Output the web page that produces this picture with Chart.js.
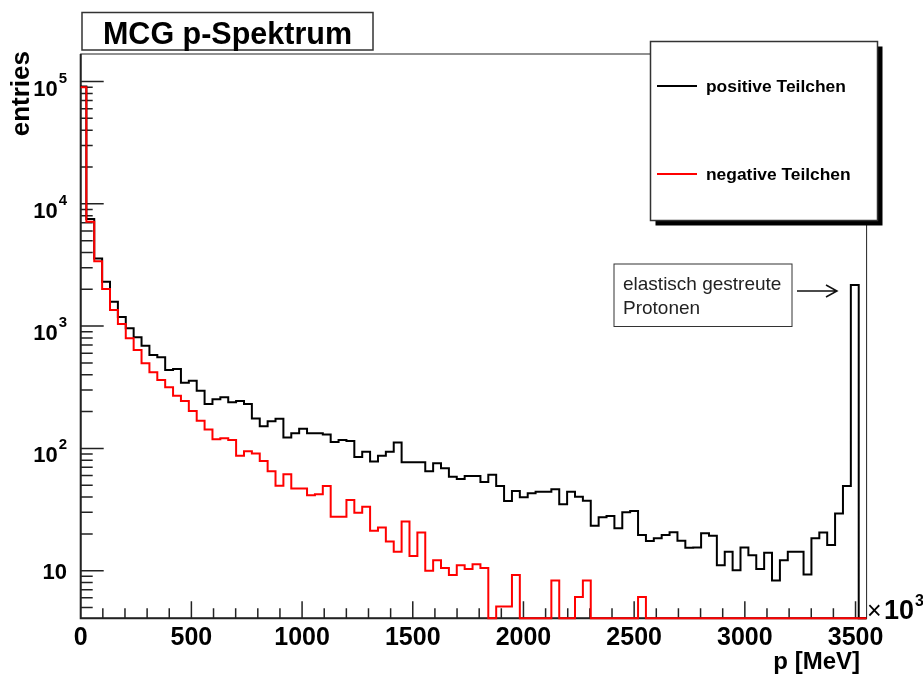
<!DOCTYPE html>
<html>
<head>
<meta charset="utf-8">
<title>MCG p-Spektrum</title>
<script src="https://cdn.jsdelivr.net/npm/chart.js@4.4.1/dist/chart.umd.min.js"></script>
<style>
  html, body { margin: 0; padding: 0; background: #fff; }
  #wrap { width: 923px; height: 675px; }
</style>
</head>
<body>
<div id="wrap"><canvas id="mycanvas" width="923" height="675"></canvas></div>
<script>
// binning of the histogram (MeV)
var histMin = -10;
var histMax = 3550;
var nBins = 100;

// entries per bin (0 = empty bin)
var positive = [
    91000, 7500, 3580, 2310, 1580, 1190, 960, 810, 690, 580,
    556, 438, 446, 345, 358, 296, 231, 252, 262, 239,
    244, 231, 176, 152, 167, 175, 123, 133, 145, 133,
    133, 130, 113, 117, 115, 85, 94, 78, 87, 94,
    112, 77, 77, 77, 65, 75.5, 68.7, 58.7, 56.2, 59.5,
    59.5, 53, 61, 49.3, 37.2, 44.9, 39.8, 42.9, 44.3, 44.3,
    46.3, 34.9, 44.3, 40.3, 37.3, 23.3, 27.3, 28, 22.2, 30,
    30.8, 19.6, 17.5, 18.4, 19.6, 20.6, 17.6, 15.4, 15.5, 20.2,
    19.3, 11.1, 14.3, 10.1, 15.5, 13.4, 10.3, 14, 8.3, 12.2,
    14.3, 14.3, 9.3, 18.4, 20.5, 16.2, 29.4, 49.3, 2170, 0
];
var negative = [
    90000, 7150, 3400, 2010, 1355, 1040, 794, 638, 497, 419,
    362, 316, 270, 244, 202, 168, 143, 119, 121, 117,
    87, 95, 91, 79, 65, 49.5, 61.5, 47, 47, 41.3,
    42.2, 49.3, 27.6, 27.6, 37.8, 29.8, 33.4, 21.2, 22.6, 17.3,
    14.3, 25.3, 13.2, 20.5, 10, 12.2, 10.5, 9.2, 11.1, 10.3,
    11.3, 10.5, 0, 5.1, 5.1, 9.2, 0, 0, 0, 0,
    8.3, 0, 0, 6.1, 8.3, 0, 0, 0, 0, 0,
    0, 6.1, 0, 0, 0, 0, 0, 0, 0, 0,
    0, 0, 0, 0, 0, 0, 0, 0, 0, 0,
    0, 0, 0, 0, 0, 0, 0, 0, 0, 0
];

var seriesNames = ["positive Teilchen", "negative Teilchen"];

// axis ranges and tick labels
var xMin = 0, xMax = 3550;
var yMin = 4.08, yMax = 168000;
var xTickValues = [0, 500, 1000, 1500, 2000, 2500, 3000, 3500];
var xTickLabels = ["0", "500", "1000", "1500", "2000", "2500", "3000", "3500"];
var yTickValues = [10, 100, 1000, 10000, 100000];
var yTickExps = ["", "2", "3", "4", "5"];

var FONT = '"Liberation Sans", Arial, Helvetica, sans-serif';

// step outline points; empty bins sit on the bottom of the frame like in ROOT
function histPoints(counts) {
    var w = (histMax - histMin) / nBins;
    var pts = [{x: histMin, y: yMin}];
    for (var i = 0; i < counts.length; i++) {
        pts.push({x: histMin + i * w, y: counts[i] > 0 ? counts[i] : yMin});
    }
    pts.push({x: histMax, y: yMin});
    return pts;
}

// frame + ticks, drawn under the histograms
var rootAxes = {
    id: 'rootAxes',
    beforeDatasetsDraw: function(chart) {
        var ctx = chart.ctx;
        var xs = chart.scales.x, ys = chart.scales.y;
        var a = chart.chartArea;
        ctx.save();
        ctx.strokeStyle = '#222';
        ctx.lineWidth = 1;
        ctx.strokeRect(a.left, a.top, a.right - a.left, a.bottom - a.top);
        ctx.lineWidth = 2;
        ctx.beginPath();
        ctx.moveTo(a.left, a.top);
        ctx.lineTo(a.left, a.bottom);
        ctx.lineTo(a.right, a.bottom);
        ctx.stroke();

        ctx.lineWidth = 1.5;
        ctx.beginPath();
        for (var e = 0; e <= 5; e++) {
            for (var m = 1; m <= 9; m++) {
                var v = m * Math.pow(10, e);
                if (v < ys.min || v > ys.max) continue;
                var py = ys.getPixelForValue(v);
                var len = (m === 1) ? 23 : 12;
                ctx.moveTo(a.left, py);
                ctx.lineTo(a.left + len, py);
            }
        }
        for (var t = 100; t <= 3500; t += 100) {
            var px = xs.getPixelForValue(t);
            var l = (t % 500 === 0) ? 17 : 10;
            ctx.moveTo(px, a.bottom);
            ctx.lineTo(px, a.bottom - l);
        }
        ctx.stroke();
        ctx.restore();
    },
    afterDraw: function(chart) {
        var ctx = chart.ctx;
        var xs = chart.scales.x, ys = chart.scales.y;
        var a = chart.chartArea;
        ctx.save();
        ctx.fillStyle = '#000';

        // x tick labels
        ctx.font = 'bold 25px ' + FONT;
        ctx.textAlign = 'center';
        ctx.textBaseline = 'alphabetic';
        for (var i = 0; i < xTickValues.length; i++) {
            ctx.fillText(xTickLabels[i], xs.getPixelForValue(xTickValues[i]), a.bottom + 27);
        }

        // y tick labels 10, 10^2 ...
        var right = 67;
        for (var j = 0; j < yTickValues.length; j++) {
            var py = ys.getPixelForValue(yTickValues[j]);
            if (yTickExps[j] === "") {
                ctx.font = 'bold 22px ' + FONT;
                ctx.textAlign = 'right';
                ctx.fillText('10', right, py + 8);
            } else {
                ctx.font = 'bold 15px ' + FONT;
                var sw = ctx.measureText(yTickExps[j]).width;
                ctx.textAlign = 'left';
                ctx.fillText(yTickExps[j], right - sw, py + 1);
                ctx.font = 'bold 22px ' + FONT;
                ctx.textAlign = 'right';
                ctx.fillText('10', right - sw - 1, py + 14);
            }
        }

        // x10^3 at the end of the x axis
        ctx.textAlign = 'left';
        ctx.font = '25px ' + FONT;
        ctx.fillText('\u00d7', 867, a.bottom + 1);
        ctx.font = 'bold 27px ' + FONT;
        ctx.fillText('10', 884, a.bottom + 1);
        ctx.font = 'bold 16px ' + FONT;
        ctx.fillText('3', 915, a.bottom - 12);

        // axis titles
        ctx.font = 'bold 24px ' + FONT;
        ctx.textAlign = 'right';
        ctx.fillText('p [MeV]', 860, 669);
        ctx.save();
        ctx.translate(29, 51);
        ctx.rotate(-Math.PI / 2);
        ctx.font = 'bold 26px ' + FONT;
        ctx.fillText('entries', 0, 0);
        ctx.restore();

        // title box
        ctx.fillStyle = '#fff';
        ctx.fillRect(82, 12.5, 291, 37.5);
        ctx.strokeStyle = '#333';
        ctx.lineWidth = 1.5;
        ctx.strokeRect(82, 12.5, 291, 37.5);
        ctx.fillStyle = '#000';
        ctx.font = 'bold 30.5px ' + FONT;
        ctx.textAlign = 'center';
        ctx.fillText('MCG p-Spektrum', 227.5, 43.5);

        // legend with drop shadow
        var lx = 650.5, ly = 41.5, lw = 227, lh = 179;
        ctx.fillStyle = '#000';
        ctx.fillRect(lx + 5, ly + 5, lw, lh);
        ctx.fillStyle = '#fff';
        ctx.fillRect(lx, ly, lw, lh);
        ctx.strokeStyle = '#333';
        ctx.lineWidth = 1.5;
        ctx.strokeRect(lx, ly, lw, lh);
        var rows = [86, 174];
        chart.data.datasets.forEach(function(ds, k) {
            ctx.strokeStyle = ds.borderColor;
            ctx.lineWidth = 2;
            ctx.beginPath();
            ctx.moveTo(657, rows[k]);
            ctx.lineTo(697, rows[k]);
            ctx.stroke();
            ctx.fillStyle = '#000';
            ctx.font = 'bold 17.4px ' + FONT;
            ctx.textAlign = 'left';
            ctx.textBaseline = 'middle';
            ctx.fillText(ds.label, 706, rows[k] + 1);
        });

        // annotation for the elastic peak
        ctx.textBaseline = 'alphabetic';
        ctx.fillStyle = '#fff';
        ctx.fillRect(614, 264, 178, 62.5);
        ctx.strokeStyle = '#333';
        ctx.lineWidth = 1;
        ctx.strokeRect(614, 264, 178, 62.5);
        ctx.fillStyle = '#222';
        ctx.font = '19px ' + FONT;
        ctx.fillText('elastisch gestreute', 623, 290);
        ctx.fillText('Protonen', 623, 314);
        ctx.strokeStyle = '#111';
        ctx.lineWidth = 1.5;
        ctx.beginPath();
        ctx.moveTo(797, 291);
        ctx.lineTo(837, 291);
        ctx.moveTo(826, 285);
        ctx.lineTo(837, 291);
        ctx.lineTo(826, 297);
        ctx.stroke();
        ctx.restore();
    }
};

var ctx = document.getElementById('mycanvas');

var chartdata = {
    datasets: [
        {
            label: seriesNames[0],
            data: histPoints(positive),
            borderColor: '#000000',
            order: 1
        },
        {
            label: seriesNames[1],
            data: histPoints(negative),
            borderColor: '#ff0000',
            order: 0
        }
    ]
};

var histo = new Chart(ctx, {
    type: 'line',
    data: chartdata,
    plugins: [rootAxes],
    options: {
        responsive: false,
        animation: false,
        devicePixelRatio: 1,
        layout: {
            padding: {left: 80.7, top: 54, right: 56.4, bottom: 56.7}
        },
        datasets: {
            line: {
                stepped: 'before',
                fill: false,
                borderWidth: 2,
                pointRadius: 0,
                pointHoverRadius: 0,
                clip: {left: 0, top: 2, right: 1, bottom: 2}
            }
        },
        plugins: {
            legend: {display: false},
            tooltip: {enabled: false}
        },
        scales: {
            x: {type: 'linear', min: xMin, max: xMax, display: false},
            y: {type: 'logarithmic', min: yMin, max: yMax, display: false}
        }
    }
});
</script>
</body>
</html>
